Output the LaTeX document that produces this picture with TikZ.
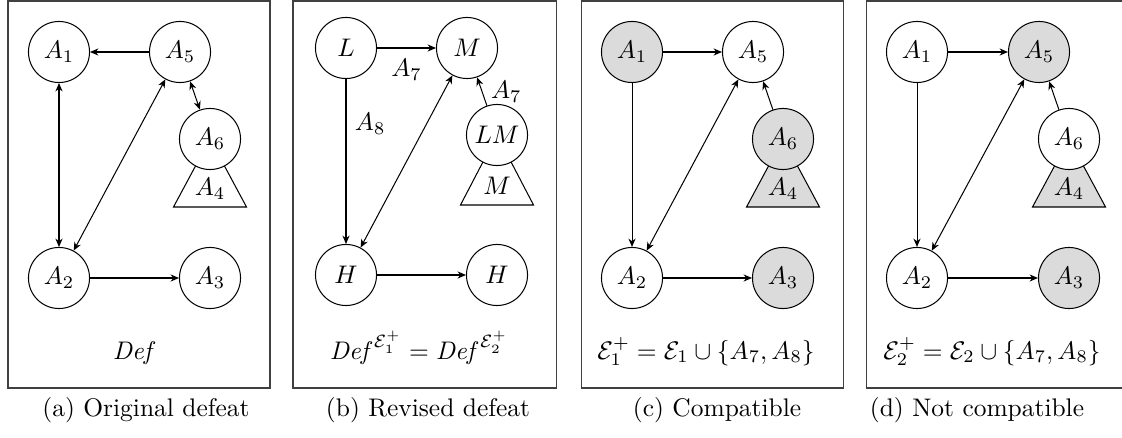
\documentclass[tikz,border=0pt]{standalone}
\usepackage{amsmath}
\usepackage{tikz}
\usetikzlibrary{arrows.meta,positioning}
\tikzset{
  arg/.style={draw=black, circle, fill=white, minimum size=24pt, inner sep=1pt},
  argin/.style={arg, fill=black!14},
  subtree/.style={draw=black, fill=white},
  subtreein/.style={draw=black, fill=black!14},
  panel/.style={draw=black!75},
  att/.style={-{Stealth[length=3.3pt,width=2.8pt]}},
  mutual/.style={{Stealth[length=3.3pt,width=2.8pt]}-{Stealth[length=3.3pt,width=2.8pt]}},
  sublabel/.style={anchor=base},
  subcap/.style={font=\normalsize}
}

\begin{document}
\begin{tikzpicture}[x=0.393pt, y=-0.393pt]
\useasboundingbox (0,0) rectangle (1122,438);
\clip (0,0) rectangle (1122,438);

\begin{scope}[shift={(8,0)}]
\draw[panel] (0,1) rectangle (262,388);
\draw[subtree] (202,139) -- (165.5,207) -- (238.5,207) -- cycle;
\node (a4) at (202,189) {$A_4$};
\node[arg] (a1) at (51,52) {$A_1$};
\node[arg] (a5) at (172,52) {$A_5$};
\node[arg] (a6) at (202,139) {$A_6$};
\node[arg] (a2) at (51,278) {$A_2$};
\node[arg] (a3) at (202,278) {$A_3$};
\node[sublabel] (defa) at (127,359) {$\mathit{Def}$};
\node[subcap] (capa) at (138,410) {(a) Original defeat};
\draw[att] (a5) -- (a1);
\draw[mutual] (a1) -- (a2);
\draw[mutual] (a2) -- (a5);
\draw[mutual] (a5) -- (a6);
\draw[att] (a2) -- (a3);
\end{scope}

\begin{scope}[shift={(293,0)}]
\draw[panel] (0,1) rectangle (263,388);
\draw[subtree] (204,135) -- (167.5,205) -- (240.5,205) -- cycle;
\node (bm) at (204,186) {$M$};
\node[arg] (bl) at (53,48) {$L$};
\node[arg] (bm1) at (174,48) {$M$};
\node[arg] (blm) at (204,135) {$LM$};
\node[arg] (bh) at (53,275) {$H$};
\node[arg] (bh1) at (204,275) {$H$};
\node[sublabel] (defb) at (126,359) {$\mathit{Def}^{\mathcal{E}_1^+} = \mathit{Def}^{\mathcal{E}_2^+}$};
\node[subcap] (capb) at (135,410) {(b) Revised defeat};
\draw[att] (bl) -- node[below=1pt] (b7) {$A_7$} (bm1);
\draw[att] (bl) -- node[right, pos=0.27] (b8) {$A_8$} (bh);
\draw[mutual] (bh) -- (bm1);
\draw[att] (blm) -- node[right] (b7b) {$A_7$} (bm1);
\draw[att] (bh) -- (bh1);
\end{scope}

\begin{scope}[shift={(581,0)}]
\draw[panel] (0,1) rectangle (262,388);
\draw[subtreein] (202,139) -- (165.5,207) -- (238.5,207) -- cycle;
\node (c4) at (202,189) {$A_4$};
\node[argin] (c1) at (51,52) {$A_1$};
\node[arg] (c5) at (172,52) {$A_5$};
\node[argin] (c6) at (202,139) {$A_6$};
\node[arg] (c2) at (51,278) {$A_2$};
\node[argin] (c3) at (202,278) {$A_3$};
\node[sublabel] (labc) at (125,359) {$\mathcal{E}_1^+ = \mathcal{E}_1 \cup \{A_7, A_8\}$};
\node[subcap] (capc) at (136,410) {(c) Compatible};
\draw[att] (c1) -- (c5);
\draw[att] (c1) -- (c2);
\draw[mutual] (c2) -- (c5);
\draw[att] (c6) -- (c5);
\draw[att] (c2) -- (c3);
\end{scope}

\begin{scope}[shift={(866,0)}]
\draw[panel] (0,1) rectangle (262,388);
\draw[subtreein] (203,139) -- (166.5,207) -- (239.5,207) -- cycle;
\node (d4) at (203,189) {$A_4$};
\node[arg] (d1) at (51,52) {$A_1$};
\node[argin] (d5) at (173,52) {$A_5$};
\node[arg] (d6) at (203,139) {$A_6$};
\node[arg] (d2) at (51,278) {$A_2$};
\node[argin] (d3) at (203,278) {$A_3$};
\node[sublabel] (labd) at (126,359) {$\mathcal{E}_2^+ = \mathcal{E}_2 \cup \{A_7, A_8\}$};
\node[subcap] (capd) at (111,410) {(d) Not compatible};
\draw[att] (d1) -- (d5);
\draw[att] (d1) -- (d2);
\draw[mutual] (d2) -- (d5);
\draw[att] (d6) -- (d5);
\draw[att] (d2) -- (d3);
\end{scope}
\end{tikzpicture}
\end{document}
